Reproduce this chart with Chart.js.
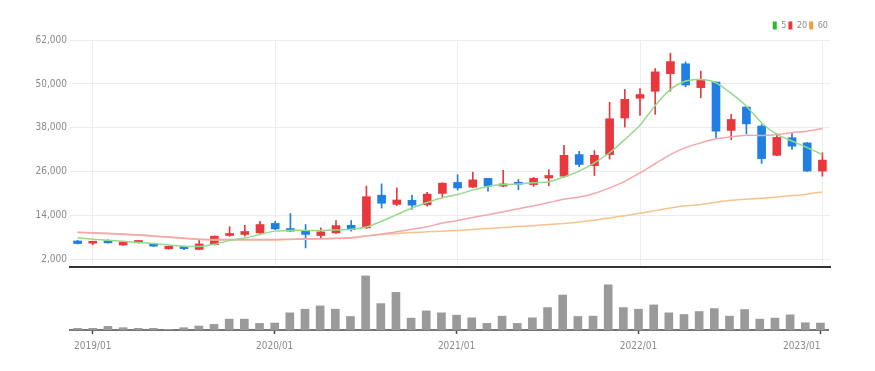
<!DOCTYPE html>
<html lang="ko">
<head>
<meta charset="UTF-8">
<title>Monthly chart</title>
<script src="https://cdn.jsdelivr.net/npm/chart.js"></script>
<style>
  html, body { margin: 0; padding: 0; background: #fff; }
  #wrap { position: relative; width: 875px; height: 371px; }
  #price { position: absolute; left: 0; top: 0; }
  #volume { position: absolute; left: 0; top: 268px; }
</style>
</head>
<body>
<div id="wrap">
  <canvas id="price" width="875" height="277"></canvas>
  <canvas id="volume" width="875" height="103"></canvas>
</div>
<script>
// monthly candles, 2018/12 .. 2023/01
const months = ['2018/12',
  '2019/01','2019/02','2019/03','2019/04','2019/05','2019/06','2019/07','2019/08','2019/09','2019/10','2019/11','2019/12',
  '2020/01','2020/02','2020/03','2020/04','2020/05','2020/06','2020/07','2020/08','2020/09','2020/10','2020/11','2020/12',
  '2021/01','2021/02','2021/03','2021/04','2021/05','2021/06','2021/07','2021/08','2021/09','2021/10','2021/11','2021/12',
  '2022/01','2022/02','2022/03','2022/04','2022/05','2022/06','2022/07','2022/08','2022/09','2022/10','2022/11','2022/12',
  '2023/01'];

const open  = [7100,6500,7200,6000,6700,6400,4950,5600,4800,6100,8600,8900,9300,11900,10500,10000,8600,9300,11400,10700,19600,17100,18200,17000,20100,23100,21800,24200,22100,23000,22500,24300,24800,30700,27700,30700,40700,46100,48000,52800,55500,49000,50500,37300,43700,38500,30500,35300,33900,26200];
const high  = [7300,7000,7400,6900,7100,6500,5700,5700,7300,8500,11000,11400,12500,12500,14600,11600,10700,12700,12700,22100,22700,21600,19600,20400,23000,25200,25900,24300,26400,23900,24500,26600,33200,31600,31800,45000,48500,48700,54200,58400,56000,53500,50600,41700,43900,38900,36400,36700,34000,31200];
const low   = [6300,6100,6500,5900,6500,5600,4900,4700,4700,6000,8400,8400,9200,10200,9700,5200,7700,9200,9800,10500,16100,16800,15700,16600,18900,21000,21700,20700,21900,21100,22000,22200,24500,27400,25000,29500,38200,41400,41700,48000,49200,46200,35300,34800,36400,28300,30400,32100,26100,24800];
const close = [6400,6800,6600,6800,6900,5700,5650,5000,6300,8400,9000,9700,11600,10400,9800,8900,9600,11300,10200,19200,17400,18300,16900,19900,22900,21600,23800,22100,22700,22600,24200,25000,30500,28000,30500,40500,45800,47100,53300,56100,49700,51200,37100,40300,39100,29600,35400,33000,26200,29200];

const ma5  = [8000,7600,7300,7000,6700,6400,6000,5700,5600,6200,7200,7900,8900,9800,10000,10000,10000,10100,10300,10900,12500,14300,16100,17600,18900,19800,21000,22000,22500,22700,23000,23300,24600,26200,28450,31200,34800,38700,44100,48500,50800,51200,50300,47400,43900,39400,36200,34400,32600,30700];
const ma20 = [9500,9350,9200,9000,8800,8500,8200,7900,7600,7500,7500,7500,7500,7500,7600,7700,7750,7850,8000,8500,9000,9600,10300,11000,12000,12700,13500,14300,15100,15900,16700,17600,18500,19100,20100,21600,23400,25700,28200,30700,32600,33900,35000,35600,36000,35900,36200,36700,37100,37800];
const ma60 = [9400,9250,9100,8900,8700,8400,8100,7800,7500,7400,7400,7400,7400,7400,7500,7600,7650,7750,7900,8500,8900,9150,9400,9600,9750,10000,10250,10500,10800,11050,11300,11600,11900,12300,12800,13400,14000,14700,15400,16100,16700,17100,17700,18200,18500,18800,19100,19500,19900,20500];

// volume in thousands of shares
const volume = [500,500,1100,700,500,500,200,700,1200,1700,3300,3300,2000,2100,5200,6300,7300,6300,4100,16400,8000,11400,3600,5800,5200,4500,3700,2000,4200,2000,3700,6800,10600,4100,4200,13700,6800,6300,7600,5200,4700,5600,6500,4200,6200,3300,3600,4600,2200,2100];

const yTicks = [2000, 14000, 26000, 38000, 50000, 62000];
const maLabels = ['5', '20', '60'];

const RED = '#e8383d';
const BLUE = '#1f7fe3';
const font = { family: "'Liberation Sans Narrow', 'DejaVu Sans Condensed', 'Roboto Condensed', Lato, sans-serif", size: 10 };
const textColor = '#8a8a8a';
const isJan = i => months[i] && months[i].endsWith('/01');

const candleColors = open.map((o, i) => close[i] >= o ? RED : BLUE);
const bodies = open.map((o, i) => [o, close[i]]);
const wicks = low.map((l, i) => [l, high[i]]);
const legendColors = ['#2db82d', RED, '#f39c3a'];

Chart.defaults.font.family = font.family;
Chart.defaults.color = textColor;

new Chart(document.getElementById('price'), {
    data: {
        labels: months,
        datasets: [
            { type: 'line', label: maLabels[0], data: ma5, borderColor: '#93db8c', borderWidth: 1.5, pointRadius: 0, tension: 0.25, order: 0 },
            { type: 'line', label: maLabels[1], data: ma20, borderColor: '#f6a5ad', borderWidth: 1.5, pointRadius: 0, tension: 0.25, order: 1 },
            { type: 'line', label: maLabels[2], data: ma60, borderColor: '#f7c28e', borderWidth: 1.5, pointRadius: 0, tension: 0.25, order: 2 },
            { type: 'bar', label: 'body', data: bodies, backgroundColor: candleColors, barThickness: 8, minBarLength: 2, grouped: false, order: 3 },
            { type: 'bar', label: 'wick', data: wicks, backgroundColor: candleColors, barThickness: 1, grouped: false, order: 4 }
        ]
    },
    options: {
        responsive: false,
        animation: false,
        layout: { padding: { left: 0, right: 45, top: 19, bottom: 0 } },
        plugins: {
            tooltip: { enabled: false },
            legend: {
                position: 'top',
                align: 'end',
                labels: {
                    boxWidth: 4,
                    boxHeight: 8,
                    padding: 2,
                    font: { family: font.family, size: 9 },
                    color: textColor,
                    generateLabels: chart => maLabels.map((t, i) => ({
                        text: t, fillStyle: legendColors[i], strokeStyle: legendColors[i],
                        lineWidth: 0, datasetIndex: i, fontColor: textColor
                    }))
                }
            }
        },
        scales: {
            x: {
                offset: true,
                grid: { offset: false, drawTicks: false, color: ctx => isJan(ctx.index) ? '#ececec' : 'rgba(0,0,0,0)' },
                ticks: { display: false, autoSkip: false },
                border: { color: '#333', width: 2 },
                afterFit: s => { s.height = 10; }
            },
            y: {
                min: 0,
                max: 62000,
                afterBuildTicks: s => { s.ticks = yTicks.map(v => ({ value: v })); },
                afterFit: s => { s.width = 70; },
                ticks: { padding: 3, font: font, color: textColor, callback: v => v.toLocaleString('en-US') },
                grid: { color: '#ececec', drawTicks: false },
                border: { display: false }
            }
        }
    }
});

new Chart(document.getElementById('volume'), {
    type: 'bar',
    data: {
        labels: months,
        datasets: [
            { label: 'volume', data: volume, backgroundColor: '#9a9a9a', barThickness: 8 }
        ]
    },
    options: {
        responsive: false,
        animation: false,
        layout: { padding: { left: 0, right: 47, top: 0, bottom: 0 } },
        plugins: { legend: { display: false }, tooltip: { enabled: false } },
        scales: {
            x: {
                offset: true,
                grid: {
                    offset: false, drawOnChartArea: false, drawTicks: true, tickLength: 4, tickWidth: 1.5,
                    color: 'rgba(0,0,0,0)', tickColor: ctx => isJan(ctx.index) ? '#444' : 'rgba(0,0,0,0)'
                },
                ticks: { autoSkip: false, maxRotation: 0, padding: 6, align: 'inner', font: font, color: textColor,
                    callback: (v, i) => isJan(i) ? months[i] : '' },
                border: { color: '#777', width: 2 },
                afterFit: s => { s.height = 41; }
            },
            y: {
                min: 0,
                max: 18800,
                ticks: { display: false },
                grid: { display: false },
                border: { display: false },
                afterFit: s => { s.width = 70; }
            }
        }
    }
});
</script>
</body>
</html>
